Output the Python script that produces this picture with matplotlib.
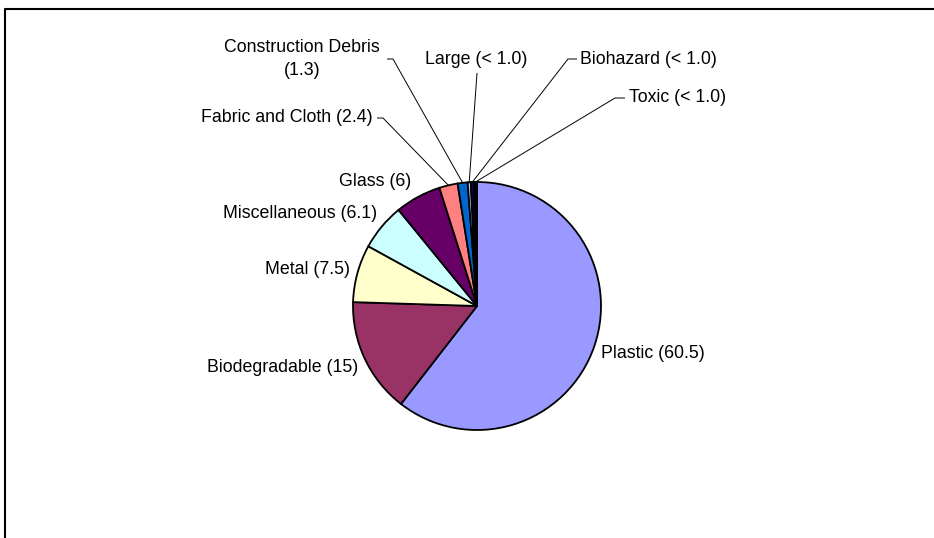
import numpy as np
import matplotlib
matplotlib.use('Agg')
import matplotlib.pyplot as plt

W, H = 934, 538

categories = ['Plastic', 'Biodegradable', 'Metal', 'Miscellaneous', 'Glass',
              'Fabric and Cloth', 'Construction Debris', 'Large', 'Biohazard', 'Toxic']
values = [60.5, 15, 7.5, 6.1, 6, 2.4, 1.3, 0.4, 0.4, 0.4]
labels = ['Plastic (60.5)', 'Biodegradable (15)', 'Metal (7.5)', 'Miscellaneous (6.1)',
          'Glass (6)', 'Fabric and Cloth (2.4)', 'Construction Debris\n(1.3)',
          'Large (< 1.0)', 'Biohazard (< 1.0)', 'Toxic (< 1.0)']
colors = ['#9999FF', '#993366', '#FFFFCC', '#CCFFFF', '#660066',
          '#FF8080', '#0066CC', '#CCCCFF', '#000080', '#000000']

# label layout in pixel coords (x, y, ha) and leader stubs
label_pos = [
    (601, 353, 'left'),
    (358, 367, 'right'),
    (350, 269, 'right'),
    (377, 213, 'right'),
    (411, 182, 'right'),
    (373, 118, 'right'),
    (302, 59, 'center'),
    (476, 59, 'center'),
    (580, 59, 'left'),
    (629, 98, 'left'),
]
leaders = {
    5: ((377, 118), (383, 118)),
    6: ((387, 59), (393, 59)),
    7: ((477, 73), (477, 73)),
    8: ((577, 59), (568, 59)),
    9: ((625, 98), (615, 98)),
}

CX, CY, R = 477, 306, 124

plt.rcParams['font.family'] = ['Liberation Sans', 'DejaVu Sans']

fig = plt.figure(figsize=(W / 100, H / 100), dpi=100)
ax = fig.add_axes([0, 0, 1, 1])

wedges, _ = ax.pie(values, colors=colors, startangle=90, counterclock=False,
                   center=(CX, H - CY), radius=R,
                   wedgeprops=dict(edgecolor='black', linewidth=1.3))

for i, (x, y, ha) in enumerate(label_pos):
    ax.text(x, H - y, labels[i], ha=ha, va='center', fontsize=12.8,
            color='black', linespacing=1.5)

for i, (p0, p1) in leaders.items():
    w = wedges[i]
    mid = np.deg2rad((w.theta1 + w.theta2) / 2)
    ex = CX + R * np.cos(mid)
    ey = (H - CY) + R * np.sin(mid)
    ax.plot([p0[0], p1[0], ex], [H - p0[1], H - p1[1], ey],
            color='black', lw=0.7, solid_capstyle='butt')

# chart area frame (clipped at right/bottom)
ax.plot([4.5, 4.5, W + 5], [-5, H - 8.5, H - 8.5], color='black', lw=1.5)

ax.set_xlim(0, W)
ax.set_ylim(0, H)
ax.set_aspect('equal')
ax.axis('off')

fig.savefig('out.png', dpi=100, facecolor='white')
